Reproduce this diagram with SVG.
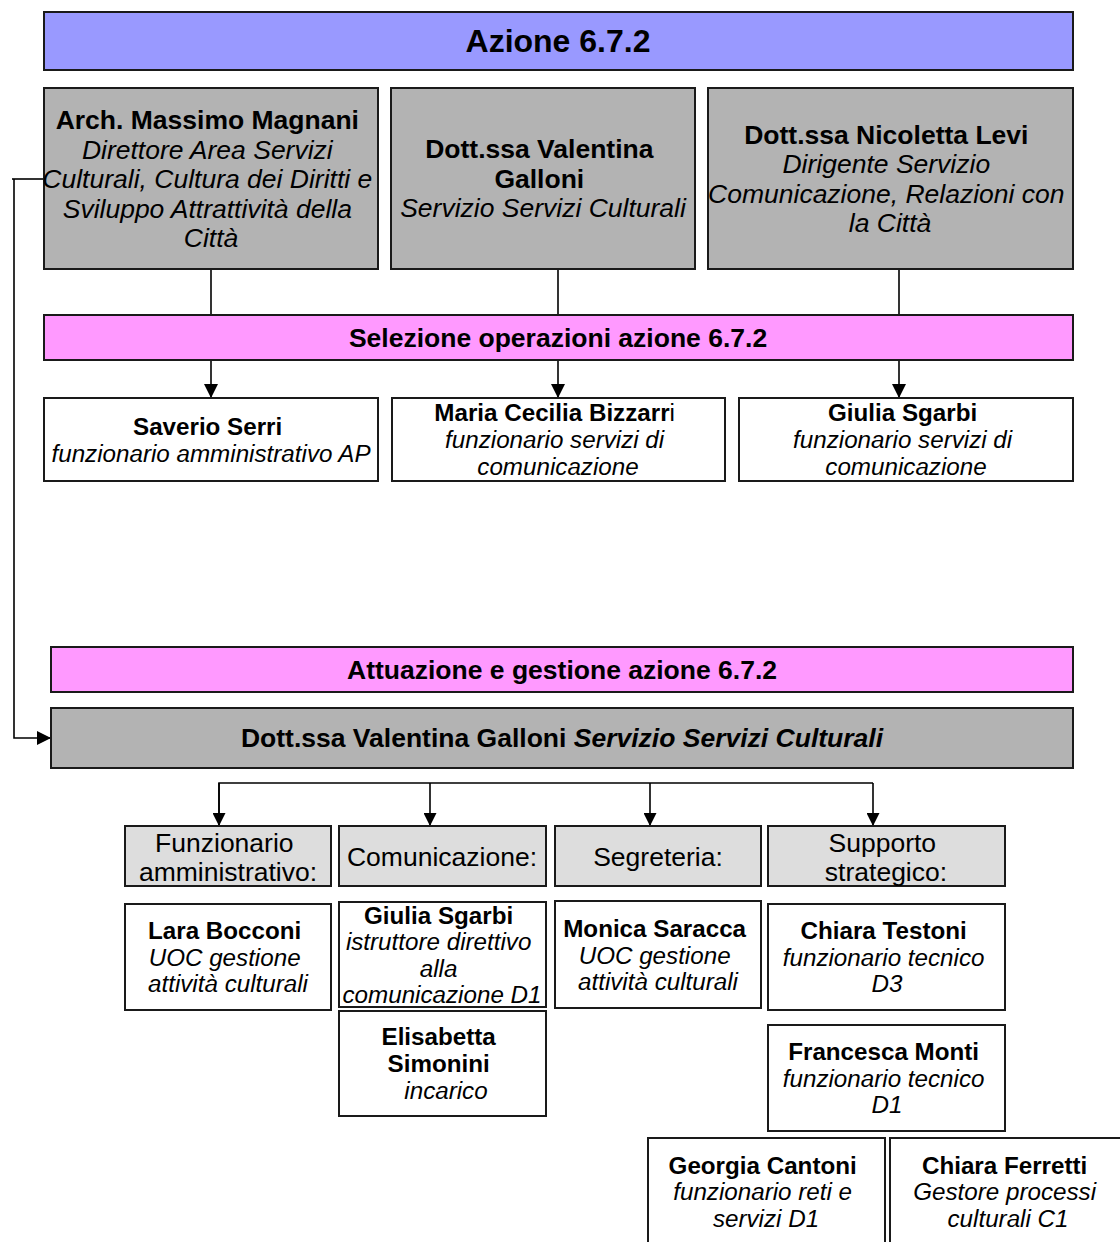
<svg xmlns="http://www.w3.org/2000/svg" width="1120" height="1242" viewBox="0 0 1120 1242">
  <style>
    text { font-family: "Liberation Sans", Arial, sans-serif; fill: #000; text-anchor: middle; }
    .box { stroke: #1a1a1a; stroke-width: 2; }
    .blue { fill: #9999FF; }
    .pink { fill: #FF99FF; }
    .grey { fill: #B3B3B3; }
    .light { fill: #DDDDDD; }
    .white { fill: #FFFFFF; }
    .b { font-weight: bold; }
    .i { font-style: italic; }
    .f32 { font-size: 32px; }
    .f26 { font-size: 26.5px; }
    .f24 { font-size: 24.2px; }
    .wire { fill: none; stroke: #000; stroke-width: 1.6; }
  </style>
  <defs>
    <marker id="arrow" viewBox="0 0 10 10" refX="10" refY="5" markerWidth="15" markerHeight="14" markerUnits="userSpaceOnUse" orient="auto">
      <path d="M0,0 L10,5 L0,10 z" fill="#000"/>
    </marker>
    <marker id="arrow-sm" viewBox="0 0 10 10" refX="10" refY="5" markerWidth="14" markerHeight="13" markerUnits="userSpaceOnUse" orient="auto">
      <path d="M0,0 L10,5 L0,10 z" fill="#000"/>
    </marker>
  </defs>

  <!-- connectors -->
  <g id="connectors">
    <line class="wire" x1="211" y1="269" x2="211" y2="315"/>
    <line class="wire" x1="558" y1="269" x2="558" y2="315"/>
    <line class="wire" x1="899" y1="269" x2="899" y2="315"/>
    <line class="wire" x1="211" y1="360" x2="211" y2="398" marker-end="url(#arrow)"/>
    <line class="wire" x1="558" y1="360" x2="558" y2="398" marker-end="url(#arrow)"/>
    <line class="wire" x1="899" y1="360" x2="899" y2="398" marker-end="url(#arrow)"/>
    <polyline class="wire" points="44,179 12,179"/>
    <polyline class="wire" points="14,179 14,738 51,738" marker-end="url(#arrow)"/>
    <polyline class="wire" points="219,826 219,783 873,783"/>
    <line class="wire" x1="219" y1="783" x2="219" y2="826" marker-end="url(#arrow-sm)"/>
    <line class="wire" x1="430" y1="783" x2="430" y2="826" marker-end="url(#arrow-sm)"/>
    <line class="wire" x1="650" y1="783" x2="650" y2="826" marker-end="url(#arrow-sm)"/>
    <line class="wire" x1="873" y1="783" x2="873" y2="826" marker-end="url(#arrow-sm)"/>
  </g>

  <!-- header -->
  <g id="azione">
    <rect class="box blue" x="44" y="12" width="1029" height="58"/>
    <text class="b f32" x="558" y="52">Azione 6.7.2</text>
  </g>

  <!-- managers -->
  <g id="magnani">
    <rect class="box grey" x="44" y="88" width="334" height="181"/>
    <text class="f26" x="211">
      <tspan class="b" x="211" y="129">Arch. Massimo Magnani</tspan>
      <tspan class="i" x="211" y="158.5">Direttore Area Servizi</tspan>
      <tspan class="i" x="211" y="188">Culturali, Cultura dei Diritti e</tspan>
      <tspan class="i" x="211" y="217.5">Sviluppo Attrattività della</tspan>
      <tspan class="i" x="211" y="247">Città</tspan>
    </text>
  </g>
  <g id="galloni">
    <rect class="box grey" x="391" y="88" width="304" height="181"/>
    <text class="f26" x="543">
      <tspan class="b" x="543" y="158">Dott.ssa Valentina</tspan>
      <tspan class="b" x="543" y="188">Galloni</tspan>
      <tspan class="i" x="543" y="217">Servizio Servizi Culturali</tspan>
    </text>
  </g>
  <g id="levi">
    <rect class="box grey" x="708" y="88" width="365" height="181"/>
    <text class="f26" x="890">
      <tspan class="b" x="890" y="144">Dott.ssa Nicoletta Levi</tspan>
      <tspan class="i" x="890" y="173">Dirigente Servizio</tspan>
      <tspan class="i" x="890" y="203">Comunicazione, Relazioni con</tspan>
      <tspan class="i" x="890" y="232">la Città</tspan>
    </text>
  </g>

  <!-- selection -->
  <g id="selezione">
    <rect class="box pink" x="44" y="315" width="1029" height="45"/>
    <text class="b f26" x="558" y="347">Selezione operazioni azione 6.7.2</text>
  </g>
  <g id="serri">
    <rect class="box white" x="44" y="398" width="334" height="83"/>
    <text class="f24" x="211">
      <tspan class="b" x="211" y="435">Saverio Serri</tspan>
      <tspan class="i" x="211" y="462">funzionario amministrativo AP</tspan>
    </text>
  </g>
  <g id="bizzarri">
    <rect class="box white" x="392" y="398" width="333" height="83"/>
    <text class="f24" x="558">
      <tspan class="b" x="558" y="421">Maria Cecilia Bizzarr<tspan font-weight="normal">i</tspan></tspan>
      <tspan class="i" x="558" y="448">funzionario servizi di</tspan>
      <tspan class="i" x="558" y="475">comunicazione</tspan>
    </text>
  </g>
  <g id="sgarbi-sel">
    <rect class="box white" x="739" y="398" width="334" height="83"/>
    <text class="f24" x="906">
      <tspan class="b" x="906" y="421">Giulia Sgarbi</tspan>
      <tspan class="i" x="906" y="448">funzionario servizi di</tspan>
      <tspan class="i" x="906" y="475">comunicazione</tspan>
    </text>
  </g>

  <!-- implementation -->
  <g id="attuazione">
    <rect class="box pink" x="51" y="647" width="1022" height="45"/>
    <text class="b f26" x="562" y="679">Attuazione e gestione azione 6.7.2</text>
  </g>
  <g id="galloni-att">
    <rect class="box grey" x="51" y="708" width="1022" height="60"/>
    <text class="b f26" x="562" y="747">Dott.ssa Valentina Galloni <tspan class="i">Servizio Servizi Culturali</tspan></text>
  </g>

  <!-- categories -->
  <g id="cat-funzionario">
    <rect class="box light" x="125" y="826" width="206" height="60"/>
    <text class="f26" x="228">
      <tspan x="228" y="852">Funzionario</tspan>
      <tspan x="228" y="881">amministrativo:</tspan>
    </text>
  </g>
  <g id="cat-comunicazione">
    <rect class="box light" x="339" y="826" width="207" height="60"/>
    <text class="f26" x="442" y="866">Comunicazione:</text>
  </g>
  <g id="cat-segreteria">
    <rect class="box light" x="555" y="826" width="206" height="60"/>
    <text class="f26" x="658" y="866">Segreteria:</text>
  </g>
  <g id="cat-supporto">
    <rect class="box light" x="768" y="826" width="237" height="60"/>
    <text class="f26" x="886">
      <tspan x="886" y="852">Supporto</tspan>
      <tspan x="886" y="881">strategico:</tspan>
    </text>
  </g>

  <!-- staff -->
  <g id="bocconi">
    <rect class="box white" x="125" y="904" width="206" height="106"/>
    <text class="f24" x="228">
      <tspan class="b" x="228" y="939">Lara Bocconi</tspan>
      <tspan class="i" x="228" y="966">UOC gestione</tspan>
      <tspan class="i" x="228" y="992">attività culturali</tspan>
    </text>
  </g>
  <g id="sgarbi-com">
    <rect class="box white" x="339" y="902" width="207" height="105"/>
    <text class="f24" x="442">
      <tspan class="b" x="442" y="924">Giulia Sgarbi</tspan>
      <tspan class="i" x="442" y="950">istruttore direttivo</tspan>
      <tspan class="i" x="442" y="977">alla</tspan>
      <tspan class="i" x="442" y="1003">comunicazione D1</tspan>
    </text>
  </g>
  <g id="simonini">
    <rect class="box white" x="339" y="1011" width="207" height="105"/>
    <text class="f24" x="442">
      <tspan class="b" x="442" y="1045">Elisabetta</tspan>
      <tspan class="b" x="442" y="1072">Simonini</tspan>
      <tspan class="i" x="446" y="1099">incarico</tspan>
    </text>
  </g>
  <g id="saracca">
    <rect class="box white" x="555" y="901" width="206" height="107"/>
    <text class="f24" x="658">
      <tspan class="b" x="658" y="937">Monica Saracca</tspan>
      <tspan class="i" x="658" y="964">UOC gestione</tspan>
      <tspan class="i" x="658" y="990">attività culturali</tspan>
    </text>
  </g>
  <g id="testoni">
    <rect class="box white" x="768" y="904" width="237" height="106"/>
    <text class="f24" x="887">
      <tspan class="b" x="887" y="939">Chiara Testoni</tspan>
      <tspan class="i" x="887" y="966">funzionario tecnico</tspan>
      <tspan class="i" x="887" y="992">D3</tspan>
    </text>
  </g>
  <g id="monti">
    <rect class="box white" x="768" y="1025" width="237" height="106"/>
    <text class="f24" x="887">
      <tspan class="b" x="887" y="1060">Francesca Monti</tspan>
      <tspan class="i" x="887" y="1087">funzionario tecnico</tspan>
      <tspan class="i" x="887" y="1113">D1</tspan>
    </text>
  </g>
  <g id="cantoni">
    <rect class="box white" x="648" y="1138" width="237" height="120"/>
    <text class="f24" x="766">
      <tspan class="b" x="766" y="1174">Georgia Cantoni</tspan>
      <tspan class="i" x="766" y="1200">funzionario reti e</tspan>
      <tspan class="i" x="766" y="1227">servizi D1</tspan>
    </text>
  </g>
  <g id="ferretti">
    <rect class="box white" x="890" y="1138" width="240" height="120"/>
    <text class="f24" x="1008">
      <tspan class="b" x="1008" y="1174">Chiara Ferretti</tspan>
      <tspan class="i" x="1008" y="1200">Gestore processi</tspan>
      <tspan class="i" x="1008" y="1227">culturali C1</tspan>
    </text>
  </g>
</svg>
